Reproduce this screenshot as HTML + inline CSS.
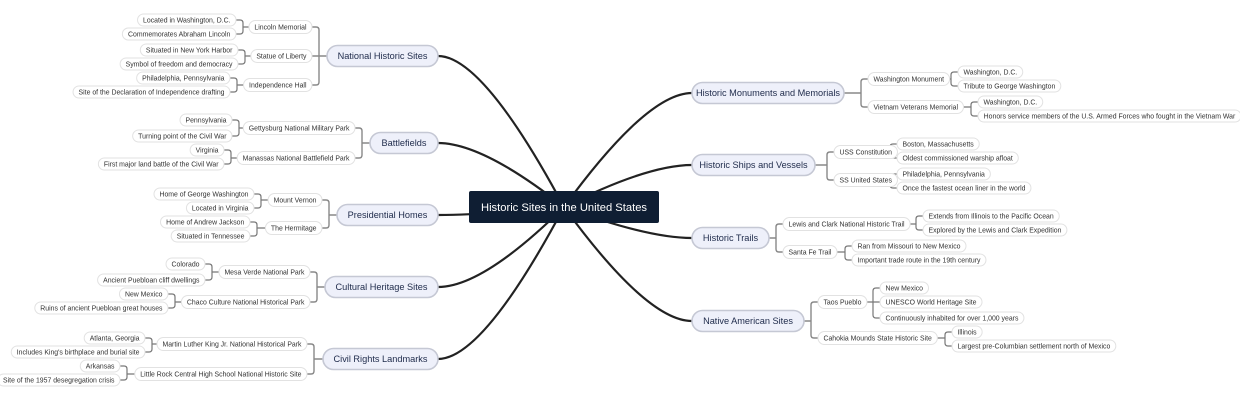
<!DOCTYPE html>
<html><head><meta charset="utf-8">
<style>
html,body{margin:0;padding:0;background:#fff;width:1240px;height:400px;overflow:hidden}
svg{display:block}
text{font-family:"Liberation Sans",Arial,sans-serif}
</style></head>
<body>
<svg id="s" width="1240" height="400" xmlns="http://www.w3.org/2000/svg"></svg>
<script>
const S=document.getElementById('s');
const NS='http://www.w3.org/2000/svg';
const cv=document.createElement('canvas').getContext('2d');
function mw(t,f){cv.font=f+'px "Liberation Sans", Arial, sans-serif';return cv.measureText(t).width;}
function el(n,a,p){const e=document.createElementNS(NS,n);for(const k in a)e.setAttribute(k,a[k]);(p||S).appendChild(e);return e;}
const gL=el('g',{}),gN=el('g',{});
function pill(x1,x2,yc,h,txt,fs,fill,stroke,sw,col){
  el('rect',{x:x1,y:yc-h/2,width:x2-x1,height:h,rx:h/2,fill:fill,stroke:stroke,'stroke-width':sw},gN);
  const t=el('text',{x:(x1+x2)/2,y:yc+fs*0.35,'text-anchor':'middle','font-size':fs,fill:col},gN);t.textContent=txt;
}
function small(side,edge,yc,txt,h,fs){
  const w=mw(txt,fs)+11;
  let x1,x2; if(side<0){x2=edge;x1=edge-w;}else{x1=edge;x2=edge+w;}
  pill(x1,x2,yc,h,txt,fs,'#fff','#e2e2e2',1,'#333');
  return side<0?x1:x2;
}
function bracket(side,pEdge,py,cEdge,ys,col,sw){
  const xv=cEdge-side*7, r=3;
  let d='M'+pEdge+','+py+' L'+xv+','+py;
  ys.forEach(y=>{
    if(Math.abs(y-py)<r){d+=' M'+xv+','+py+' L'+cEdge+','+y;return;}
    const s=y>py?1:-1;
    d+=' M'+xv+','+py+' L'+xv+','+(y-s*r)+' Q'+xv+','+y+' '+(xv+side*r)+','+y+' L'+cEdge+','+y;
  });
  el('path',{d:d,fill:'none',stroke:col,'stroke-width':sw},gL);
}
const CX=564,CY=207;
const data=[
 [-1,327,438,56,'National Historic Sites',[
   ['Lincoln Memorial',27,312,[['Located in Washington, D.C.',20],['Commemorates Abraham Lincoln',34]],236],
   ['Statue of Liberty',56,312,[['Situated in New York Harbor',50],['Symbol of freedom and democracy',64]],238],
   ['Independence Hall',85,312,[['Philadelphia, Pennsylvania',78],['Site of the Declaration of Independence drafting',92]],230]]],
 [-1,370,438,143,'Battlefields',[
   ['Gettysburg National Military Park',128,355,[['Pennsylvania',120],['Turning point of the Civil War',136]],232],
   ['Manassas National Battlefield Park',158,355,[['Virginia',150],['First major land battle of the Civil War',164]],224]]],
 [-1,337,438,215,'Presidential Homes',[
   ['Mount Vernon',200,322,[['Home of George Washington',194],['Located in Virginia',208]],254],
   ['The Hermitage',228,322,[['Home of Andrew Jackson',222],['Situated in Tennessee',236]],250]]],
 [-1,325,438,287,'Cultural Heritage Sites',[
   ['Mesa Verde National Park',272,310,[['Colorado',264],['Ancient Puebloan cliff dwellings',280]],205],
   ['Chaco Culture National Historical Park',302,310,[['New Mexico',294],['Ruins of ancient Puebloan great houses',308]],168]]],
 [-1,323,438,359,'Civil Rights Landmarks',[
   ['Martin Luther King Jr. National Historical Park',344,307,[['Atlanta, Georgia',338],['Includes King\'s birthplace and burial site',352]],145],
   ['Little Rock Central High School National Historic Site',374,307,[['Arkansas',366],['Site of the 1957 desegregation crisis',380]],120]]],
 [1,692,844,93,'Historic Monuments and Memorials',[
   ['Washington Monument',79,868,[['Washington, D.C.',72],['Tribute to George Washington',86]],958],
   ['Vietnam Veterans Memorial',107,868,[['Washington, D.C.',102],['Honors service members of the U.S. Armed Forces who fought in the Vietnam War',116]],978]]],
 [1,692,815,165,'Historic Ships and Vessels',[
   ['USS Constitution',152,834,[['Boston, Massachusetts',144],['Oldest commissioned warship afloat',158]],897],
   ['SS United States',180,834,[['Philadelphia, Pennsylvania',174],['Once the fastest ocean liner in the world',188]],897]]],
 [1,692,769,238,'Historic Trails',[
   ['Lewis and Clark National Historic Trail',224,783,[['Extends from Illinois to the Pacific Ocean',216],['Explored by the Lewis and Clark Expedition',230]],923],
   ['Santa Fe Trail',252,783,[['Ran from Missouri to New Mexico',246],['Important trade route in the 19th century',260]],852]]],
 [1,692,804,321,'Native American Sites',[
   ['Taos Pueblo',302,818,[['New Mexico',288],['UNESCO World Heritage Site',302],['Continuously inhabited for over 1,000 years',318]],880],
   ['Cahokia Mounds State Historic Site',338,818,[['Illinois',332],['Largest pre-Columbian settlement north of Mexico',346]],952]]]
];
data.forEach(b=>{
  const [side,x1,x2,yc,label,kids]=b;
  const xe=side<0?x2:x1;
  el('path',{d:'M'+CX+','+CY+' Q'+(xe-side*45)+','+yc+' '+xe+','+yc,fill:'none',stroke:'#222','stroke-width':2.2},gL);
  pill(x1,x2,yc,21,label,9.2,'#eef0fa','#c5c8d4',1.6,'#1e2a4a');
  bracket(side,xe,yc,kids[0][2],kids.map(k=>k[1]),'#888',1.4);
  kids.forEach(k=>{
    const [kl,ky,kedge,leaves,ledge]=k;
    const far=small(side,kedge,ky,kl,13,6.9);
    bracket(side,far,ky,ledge,leaves.map(l=>l[1]),'#777',1.2);
    leaves.forEach(l=>small(side,ledge,l[1],l[0],12,6.9));
  });
});
el('rect',{x:469,y:191,width:190,height:32,rx:2,fill:'#0f1e33'},gN);
const rt=el('text',{x:564,y:211,'text-anchor':'middle','font-size':11.2,fill:'#fff'},gN);
rt.textContent='Historic Sites in the United States';
</script>
</body></html>
